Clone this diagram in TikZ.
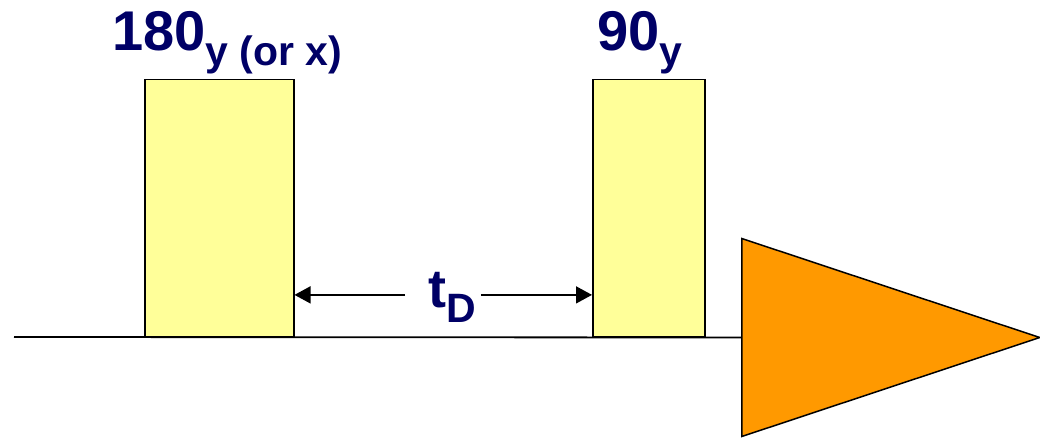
\documentclass[tikz,border=0pt]{standalone}
\usepackage{fontspec}
\setmainfont{Liberation Sans}
\usetikzlibrary{arrows.meta,positioning,shapes.geometric}
\definecolor{pulsefill}{RGB}{255,255,153}
\definecolor{fidfill}{RGB}{255,153,0}
\definecolor{labelblue}{RGB}{0,0,102}

\begin{document}
\begin{tikzpicture}[
  x=1pt,y=-1pt,
  pulse/.style={draw,line width=1.5pt,fill=pulsefill,inner sep=0pt,
                anchor=south west},
  acq/.style={draw,line width=1.5pt,fill=fidfill,isosceles triangle,
              isosceles triangle stretches,shape border rotate=0,inner sep=0pt},
  lbl/.style={inner sep=0pt,text=labelblue,font=\bfseries\fontsize{56}{56}\selectfont},
  axis/.style={line width=1.8pt},
  flow/.style={-{Triangle[length=16pt,width=17pt]},line width=1.5pt}
]
\useasboundingbox (0,0) rectangle (1040,439);
% time axis and acquisition
\coordinate (start) at (14,337);
\node[acq,minimum width=198pt,minimum height=298pt,anchor=lower side]
  (fid) at (741,337.5) {};
\draw[axis] (start) -- (fid.lower side);
% pulses
\node[pulse,minimum width=149pt,minimum height=257pt] (p180) at (144,337) {};
\node[pulse,minimum width=112pt,minimum height=257pt] (p90) at (592,337) {};
\node[lbl,anchor=base west] (lab180) at (112,50)
  {180\raisebox{-15pt}{\fontsize{41}{41}\selectfont y (or x)}};
\node[lbl,anchor=base west] (lab90) at (597,50)
  {90\raisebox{-15pt}{\fontsize{41}{41}\selectfont y}};
% delay
\node[lbl,anchor=base west,font=\bfseries\fontsize{54}{54}\selectfont] (tD) at (428,307)
  {t\raisebox{-15pt}{\fontsize{41}{41}\selectfont D}};
\draw[flow] ([xshift=-23pt,yshift=2pt]tD.west) -- ([yshift=2pt]tD.west -| p180.east);
\draw[flow] ([xshift=5pt,yshift=2pt]tD.east) -- ([yshift=2pt]tD.east -| p90.west);
\end{tikzpicture}
\end{document}
